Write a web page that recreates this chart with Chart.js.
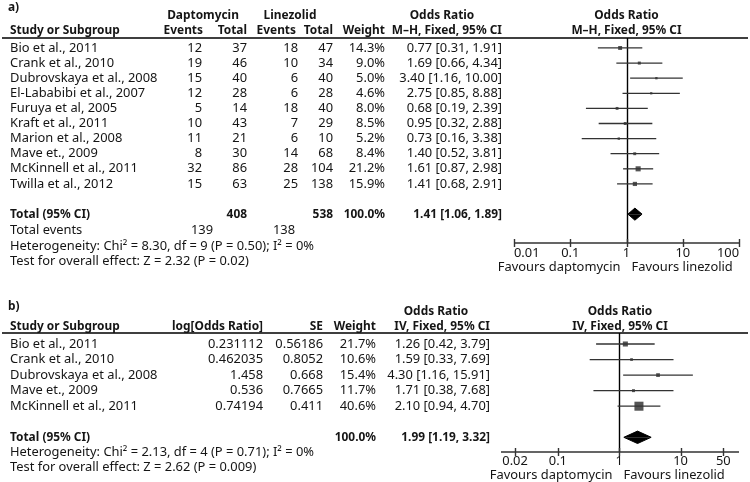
<!DOCTYPE html>
<html>
<head>
<meta charset="utf-8">
<script src="https://cdn.jsdelivr.net/npm/chart.js@4/dist/chart.umd.min.js"></script>
<style>
  body { margin: 0; background: #fff; }
  canvas { display: block; }
</style>
</head>
<body>
<canvas id="chartA" width="750" height="290"></canvas>
<canvas id="chartB" width="750" height="192"></canvas>
<script>
// panel a) data
const studiesA = ['Bio et al., 2011', 'Crank et al., 2010', 'Dubrovskaya et al., 2008', 'El-Lababibi et al., 2007',
  'Furuya et al, 2005', 'Kraft et al., 2011', 'Marion et al., 2008', 'Mave et., 2009', 'McKinnell et al., 2011', 'Twilla et al., 2012'];
const dapEventsA = [12, 19, 15, 12, 5, 10, 11, 8, 32, 15];
const dapTotalA = [37, 46, 40, 28, 14, 43, 21, 30, 86, 63];
const linEventsA = [18, 10, 6, 6, 18, 7, 6, 14, 28, 25];
const linTotalA = [47, 34, 40, 28, 40, 29, 10, 68, 104, 138];
const weightA = [14.3, 9.0, 5.0, 4.6, 8.0, 8.5, 5.2, 8.4, 21.2, 15.9];
const orA = [0.77, 1.69, 3.40, 2.75, 0.68, 0.95, 0.73, 1.40, 1.61, 1.41];
const loA = [0.31, 0.66, 1.16, 0.85, 0.19, 0.32, 0.16, 0.52, 0.87, 0.68];
const hiA = [1.91, 4.34, 10.00, 8.88, 2.39, 2.88, 3.38, 3.81, 2.98, 2.91];
const totalA = [1.41, 1.06, 1.89];   // OR, lower, upper
const totalsA = [408, 538];          // daptomycin, linezolid
const eventsA = [139, 138];
const ticksA = [0.01, 0.1, 1, 10, 100];

// panel b) data
const studiesB = ['Bio et al., 2011', 'Crank et al., 2010', 'Dubrovskaya et al., 2008', 'Mave et., 2009', 'McKinnell et al., 2011'];
const logOrB = [0.231112, 0.462035, 1.458, 0.536, 0.74194];
const seB = [0.56186, 0.8052, 0.668, 0.7665, 0.411];
const weightB = [21.7, 10.6, 15.4, 11.7, 40.6];
const orB = [1.26, 1.59, 4.30, 1.71, 2.10];
const loB = [0.42, 0.33, 1.16, 0.38, 0.94];
const hiB = [3.79, 7.69, 15.91, 7.68, 4.70];
const totalB = [1.99, 1.19, 3.32];
const ticksB = [0.02, 0.1, 1, 10, 50];

const FONT = '"Noto Sans", "Open Sans", sans-serif';
const INK = '#151515';

function txt(ctx, s, x, y, align, bold) {
  ctx.font = bold ? 'bold 11.9px ' + FONT : '12.9px ' + FONT;
  ctx.textAlign = align || 'left';
  ctx.textBaseline = 'middle';
  ctx.fillStyle = INK;
  ctx.fillText(s, x, y);
}
const ci = (o, l, h) => o.toFixed(2) + ' [' + l.toFixed(2) + ', ' + h.toFixed(2) + ']';
const pct = w => w.toFixed(1) + '%';

// builds one forest plot; table text is drawn by a plugin using the y scale
function makeForest(id, p) {
  const n = p.studies.length;
  const totRow = n + 1;
  const datasets = [];

  p.lo.forEach((l, i) => {
    datasets.push({
      type: 'line', data: [{ x: l, y: i }, { x: p.hi[i], y: i }],
      borderColor: '#333', borderWidth: 1.3, pointRadius: 0, fill: false
    });
  });
  datasets.push({
    type: 'scatter', data: p.or.map((v, i) => ({ x: v, y: i })),
    pointStyle: 'rect', pointRadius: p.weight.map(w => p.box(w) / Math.SQRT2),
    backgroundColor: '#555', borderWidth: 0
  });
  // summary diamond, upper and lower halves
  [-0.4, 0.4].forEach(h => {
    datasets.push({
      type: 'line',
      data: [{ x: p.total[1], y: totRow }, { x: p.total[0], y: totRow + h }, { x: p.total[2], y: totRow }],
      fill: { value: totRow }, backgroundColor: '#000', borderColor: '#000', borderWidth: 1, pointRadius: 0
    });
  });

  const forest = {
    id: 'forest',
    beforeDatasetsDraw(chart) {
      const { ctx, chartArea: a, scales: { x } } = chart;
      ctx.save();
      ctx.strokeStyle = '#000';
      ctx.lineWidth = 1.4;
      ctx.beginPath();
      ctx.moveTo(2, a.top); ctx.lineTo(748, a.top);
      const x1 = Math.round(x.getPixelForValue(1)) + 0.5;
      ctx.moveTo(x1, a.top); ctx.lineTo(x1, a.bottom);
      ctx.stroke();
      ctx.strokeStyle = '#333';
      ctx.beginPath();
      ctx.moveTo(a.left, a.bottom); ctx.lineTo(a.right, a.bottom);
      p.ticks.forEach(t => {
        const px = Math.round(x.getPixelForValue(t)) + 0.5;
        ctx.moveTo(px, a.bottom - 4); ctx.lineTo(px, a.bottom + 4);
      });
      ctx.stroke();
      ctx.font = '12.9px ' + FONT;
      p.ticks.forEach(t => {
        const s = String(t);
        const w = ctx.measureText(s).width;
        let cx = x.getPixelForValue(t);
        cx = Math.min(Math.max(cx, a.left + w / 2), a.right - w / 2);
        txt(ctx, s, cx, a.bottom + p.tickGap, 'center');
      });
      txt(ctx, 'Favours daptomycin', x1 - 7, a.bottom + p.favGap, 'right');
      txt(ctx, 'Favours linezolid', x1 + 4, a.bottom + p.favGap, 'left');
      const cx = (a.left + a.right) / 2;
      txt(ctx, 'Odds Ratio', cx, a.top - p.h1, 'center', true);
      txt(ctx, p.method, cx, a.top - p.h2, 'center', true);
      ctx.restore();
    },
    afterDraw(chart) {
      const { ctx, chartArea: a, scales: { y } } = chart;
      ctx.save();
      p.table(ctx, v => y.getPixelForValue(v), a.top);
      ctx.restore();
    }
  };

  return new Chart(document.getElementById(id), {
    type: 'scatter',
    data: { datasets },
    options: {
      responsive: false,
      animation: false,
      events: [],
      layout: { padding: p.pad },
      scales: {
        x: { type: 'logarithmic', min: p.xMin, max: p.xMax, bounds: 'data', display: false },
        y: { type: 'linear', min: p.yMin, max: p.yMax, reverse: true, bounds: 'data', display: false }
      },
      plugins: { legend: { display: false }, tooltip: { enabled: false } }
    },
    plugins: [forest]
  });
}

makeForest('chartA', {
  studies: studiesA, or: orA, lo: loA, hi: hiA, weight: weightA, total: totalA, ticks: ticksA,
  box: w => 1.5 + w * 0.17,
  xMin: 0.01, xMax: 100, yMin: -0.66, yMax: 12.91,
  pad: { left: 514, right: 11, top: 38, bottom: 47 },
  tickGap: 10, favGap: 24, h1: 22, h2: 7,
  method: 'M–H, Fixed, 95% CI',
  table(ctx, yv, top) {
    txt(ctx, 'a)', 8, top - 30, 'left', true);
    txt(ctx, 'Daptomycin', 203, top - 22, 'center', true);
    txt(ctx, 'Linezolid', 290, top - 22, 'center', true);
    txt(ctx, 'Odds Ratio', 442, top - 22, 'center', true);
    txt(ctx, 'Study or Subgroup', 10, top - 7, 'left', true);
    txt(ctx, 'Events', 203, top - 7, 'right', true);
    txt(ctx, 'Total', 247, top - 7, 'right', true);
    txt(ctx, 'Events', 296, top - 7, 'right', true);
    txt(ctx, 'Total', 333, top - 7, 'right', true);
    txt(ctx, 'Weight', 385, top - 7, 'right', true);
    txt(ctx, 'M–H, Fixed, 95% CI', 502, top - 7, 'right', true);
    studiesA.forEach((s, i) => {
      const y = yv(i);
      txt(ctx, s, 10, y);
      txt(ctx, String(dapEventsA[i]), 202, y, 'right');
      txt(ctx, String(dapTotalA[i]), 247, y, 'right');
      txt(ctx, String(linEventsA[i]), 298, y, 'right');
      txt(ctx, String(linTotalA[i]), 333, y, 'right');
      txt(ctx, pct(weightA[i]), 385, y, 'right');
      txt(ctx, ci(orA[i], loA[i], hiA[i]), 502, y, 'right');
    });
    const yt = yv(studiesA.length + 1);
    txt(ctx, 'Total (95% CI)', 10, yt, 'left', true);
    txt(ctx, String(totalsA[0]), 247, yt, 'right', true);
    txt(ctx, String(totalsA[1]), 333, yt, 'right', true);
    txt(ctx, '100.0%', 385, yt, 'right', true);
    txt(ctx, ci(totalA[0], totalA[1], totalA[2]), 502, yt, 'right', true);
    txt(ctx, 'Total events', 10, yt + 16);
    txt(ctx, String(eventsA[0]), 213, yt + 16, 'right');
    txt(ctx, String(eventsA[1]), 295, yt + 16, 'right');
    txt(ctx, 'Heterogeneity: Chi² = 8.30, df = 9 (P = 0.50); I² = 0%', 10, yt + 32);
    txt(ctx, 'Test for overall effect: Z = 2.32 (P = 0.02)', 10, yt + 47);
  }
});

makeForest('chartB', {
  studies: studiesB, or: orB, lo: loB, hi: hiB, weight: weightB, total: totalB, ticks: ticksB,
  box: w => 0.5 + w * 0.21,
  xMin: 0.0118, xMax: 90, yMin: -0.707, yMax: 6.945,
  pad: { left: 501, right: 11, top: 43, bottom: 30 },
  tickGap: 9, favGap: 23, h1: 21, h2: 6,
  method: 'IV, Fixed, 95% CI',
  table(ctx, yv, top) {
    txt(ctx, 'b)', 8, top - 26, 'left', true);
    txt(ctx, 'Odds Ratio', 436, top - 21, 'center', true);
    txt(ctx, 'Study or Subgroup', 10, top - 6, 'left', true);
    txt(ctx, 'log[Odds Ratio]', 263, top - 6, 'right', true);
    txt(ctx, 'SE', 323, top - 6, 'right', true);
    txt(ctx, 'Weight', 376, top - 6, 'right', true);
    txt(ctx, 'IV, Fixed, 95% CI', 490, top - 6, 'right', true);
    studiesB.forEach((s, i) => {
      const y = yv(i);
      txt(ctx, s, 10, y);
      txt(ctx, String(logOrB[i]), 263, y, 'right');
      txt(ctx, String(seB[i]), 323, y, 'right');
      txt(ctx, pct(weightB[i]), 376, y, 'right');
      txt(ctx, ci(orB[i], loB[i], hiB[i]), 490, y, 'right');
    });
    const yt = yv(studiesB.length + 1);
    txt(ctx, 'Total (95% CI)', 10, yt, 'left', true);
    txt(ctx, '100.0%', 376, yt, 'right', true);
    txt(ctx, ci(totalB[0], totalB[1], totalB[2]), 490, yt, 'right', true);
    txt(ctx, 'Heterogeneity: Chi² = 2.13, df = 4 (P = 0.71); I² = 0%', 10, yt + 15);
    txt(ctx, 'Test for overall effect: Z = 2.62 (P = 0.009)', 10, yt + 30);
  }
});
</script>
</body>
</html>
